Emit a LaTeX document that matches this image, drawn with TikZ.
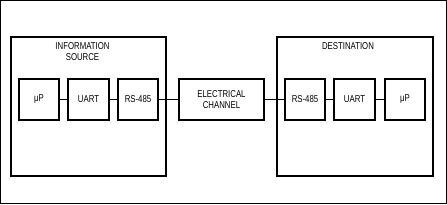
\documentclass[tikz,border=0pt]{standalone}
\usepackage{fontspec}
\newfontfamily\diagfont[FakeStretch=0.78]{Liberation Sans}
\begin{document}
\begin{tikzpicture}[x=1pt,y=-1pt,
  blk/.style={draw,line width=2pt,inner sep=0pt},
  lbl/.style={font=\diagfont\fontsize{10}{10.5}\selectfont,align=center,inner sep=0pt},
  wire/.style={line width=1pt}]
\draw[line width=1pt] (0.5,0.5) rectangle (446.5,203.5);
\useasboundingbox (0,0) rectangle (447,204);
% big boxes
\node[blk,minimum width=155pt,minimum height=139pt] (src) at (88.5,106.5) {};
\node[blk,minimum width=156pt,minimum height=139pt] (dst) at (355,106.5) {};
\node[lbl] (srct) at (82.5,51.5) {INFORMATION\\SOURCE};
\node[lbl] (dstt) at (348,46) {DESTINATION};
% left
\node[blk,minimum width=40pt,minimum height=41pt,lbl] (mp1) at (39,99.5) {μP};
\node[blk,minimum width=41pt,minimum height=41pt,lbl] (ua1) at (88.5,99.5) {UART};
\node[blk,minimum width=40pt,minimum height=41pt,lbl] (rs1) at (138,99.5) {RS-485};
% channel
\node[blk,minimum width=85pt,minimum height=41pt,lbl] (ch) at (221.5,99.5) {ELECTRICAL\\CHANNEL};
% right
\node[blk,minimum width=40pt,minimum height=41pt,lbl] (rs2) at (305,99.5) {RS-485};
\node[blk,minimum width=41pt,minimum height=41pt,lbl] (ua2) at (354.5,99.5) {UART};
\node[blk,minimum width=40pt,minimum height=41pt,lbl] (mp2) at (405,99.5) {μP};
% wires
\draw[wire] (mp1) -- (ua1);
\draw[wire] (ua1) -- (rs1);
\draw[wire] (rs1) -- (ch);
\draw[wire] (ch) -- (rs2);
\draw[wire] (rs2) -- (ua2);
\draw[wire] (ua2) -- (mp2);
\end{tikzpicture}
\end{document}
